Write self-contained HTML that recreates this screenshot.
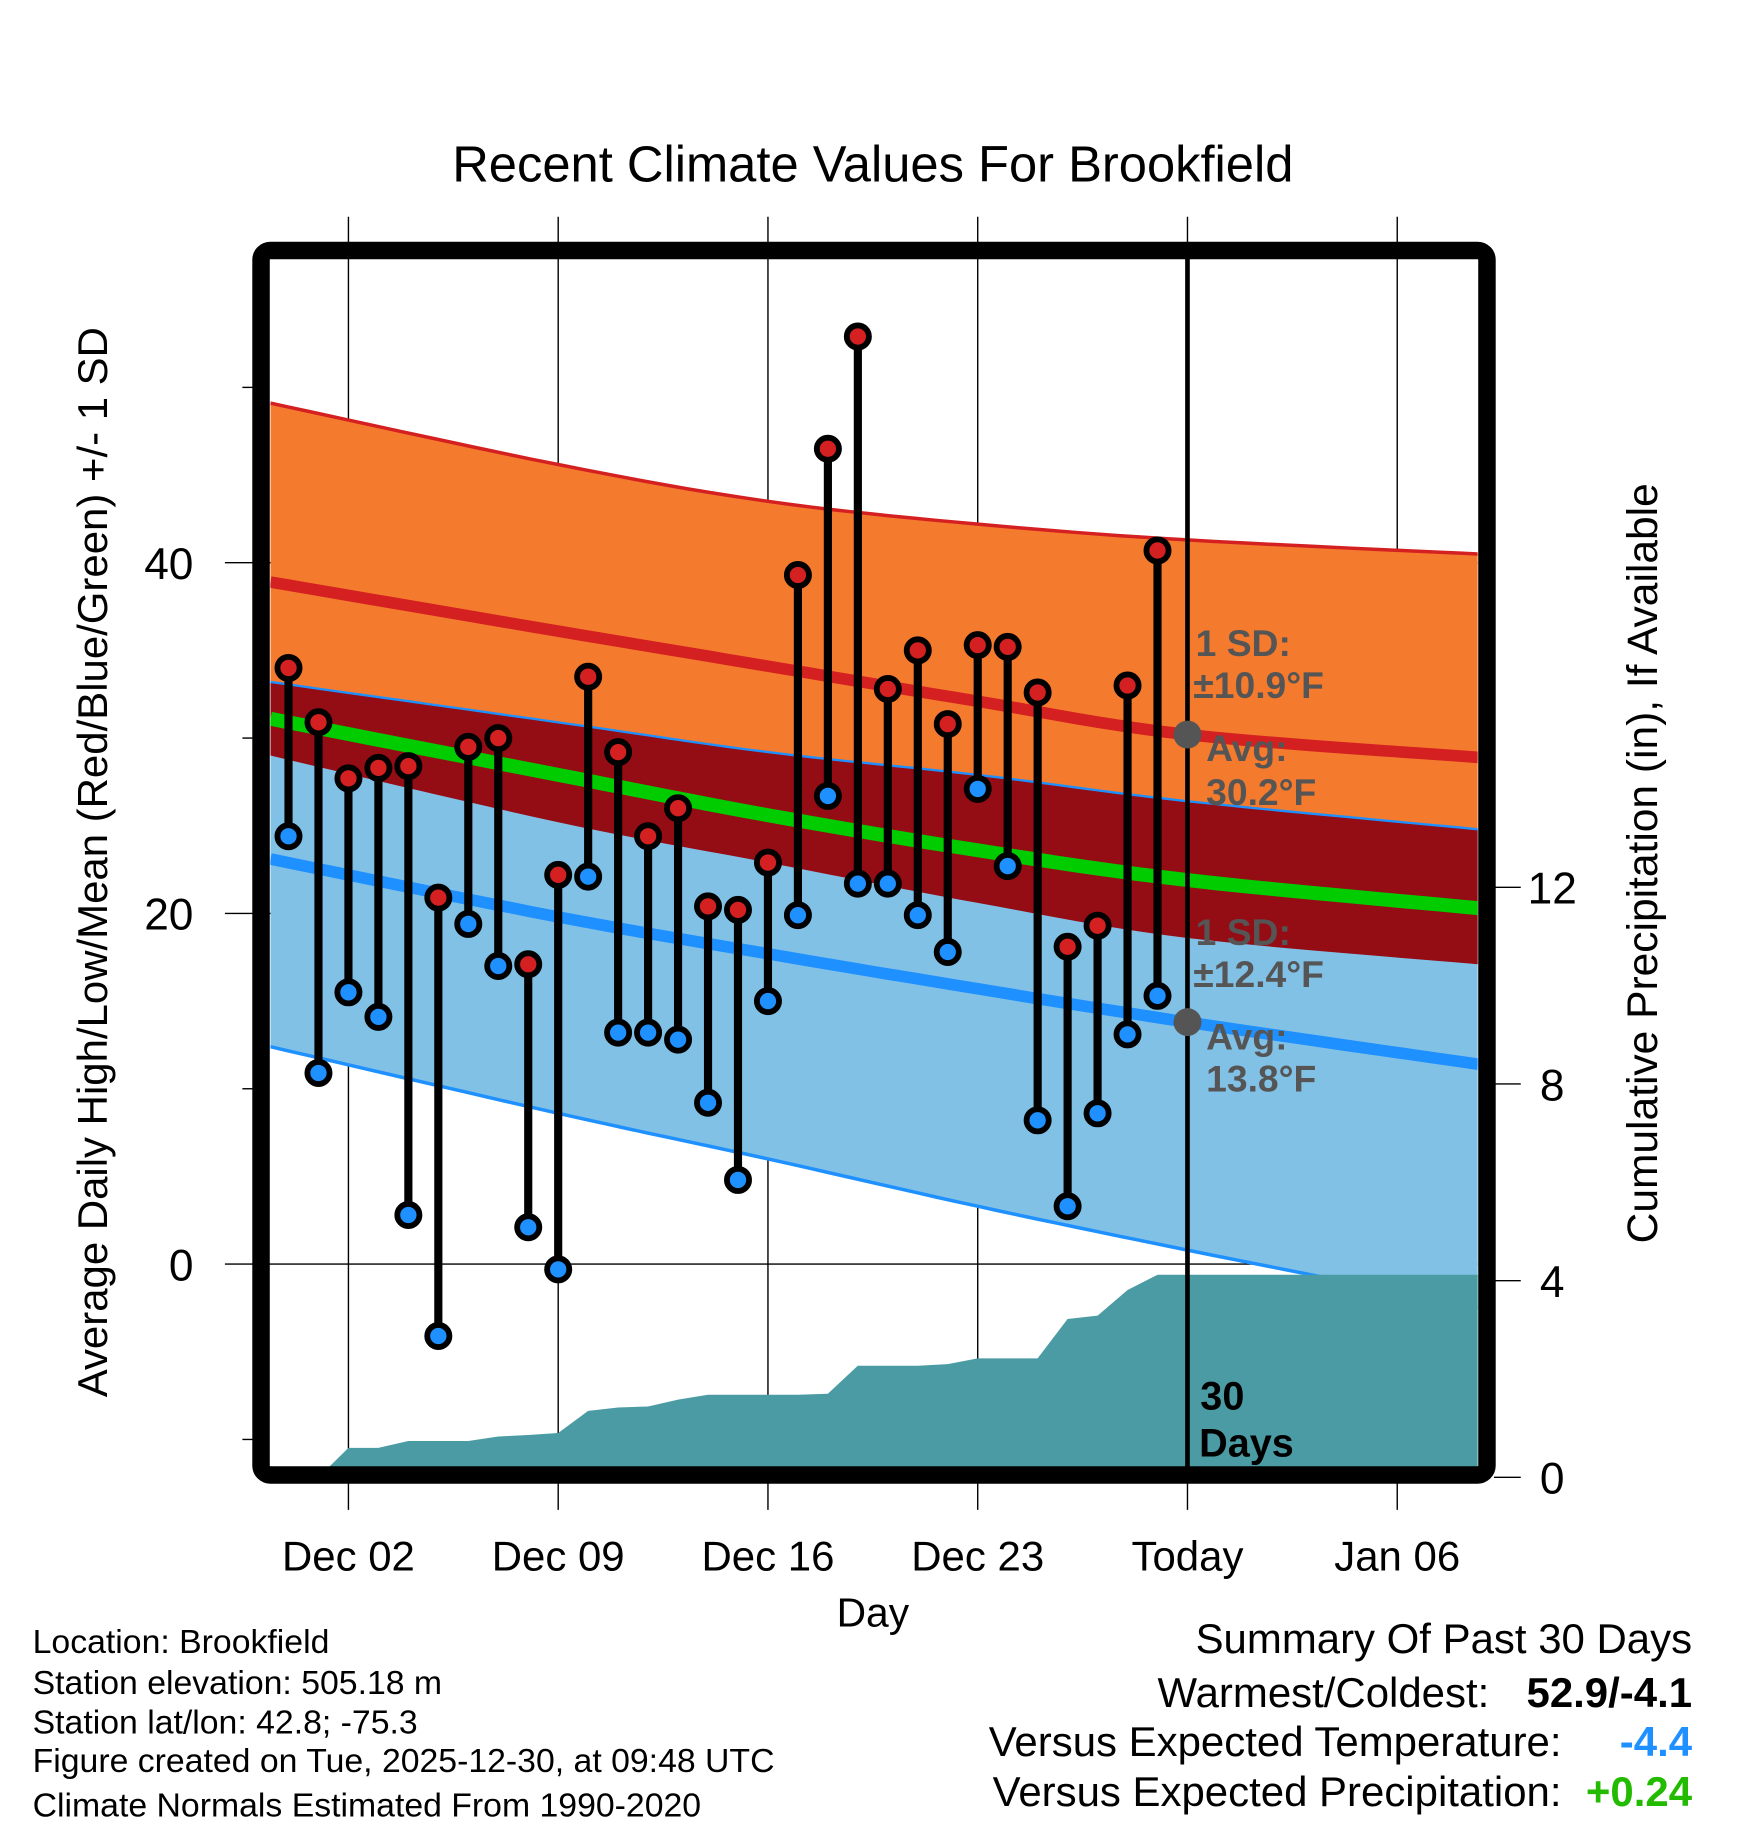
<!DOCTYPE html>
<html><head><meta charset="utf-8"><style>
html,body{margin:0;padding:0;background:#fff;}
svg{display:block;font-family:"Liberation Sans",Arial,sans-serif;}
</style></head><body>
<svg id="chart" xmlns="http://www.w3.org/2000/svg" width="1748" height="1828" viewBox="0 0 1500 1569" preserveAspectRatio="none">
<rect x="0" y="0" width="1500" height="1569" fill="#fff"/>
<defs><clipPath id="plotclip"><rect x="232" y="222" width="1036" height="1038"/></clipPath></defs>
<text x="749" y="156" font-size="43.5" text-anchor="middle">Recent Climate Values For Brookfield</text>
<g id="grid"></g>
<g id="bands" clip-path="url(#plotclip)"></g>
<g id="precip" clip-path="url(#plotclip)"></g>
<g id="marks"></g>
<g id="annot"></g>
<rect x="224" y="215" width="1052" height="1051" rx="8" fill="none" stroke="#000" stroke-width="15"/>
<g id="axes"></g>
<text transform="translate(92,740) rotate(-90)" font-size="36" text-anchor="middle">Average Daily High/Low/Mean (Red/Blue/Green) +/- 1 SD</text>
<text transform="translate(1422,741) rotate(-90)" font-size="36.5" text-anchor="middle">Cumulative Precipitation (in), If Available</text>
<text x="749" y="1396" font-size="35" text-anchor="middle">Day</text>
<g font-size="29">
<text x="28" y="1419">Location: Brookfield</text>
<text x="28" y="1454">Station elevation: 505.18 m</text>
<text x="28" y="1488">Station lat/lon: 42.8; -75.3</text>
<text x="28" y="1521">Figure created on Tue, 2025-12-30, at 09:48 UTC</text>
<text x="28" y="1559">Climate Normals Estimated From 1990-2020</text>
</g>
<g font-size="36">
<text x="1452" y="1419" text-anchor="end">Summary Of Past 30 Days</text>
<text x="1278" y="1465" text-anchor="end">Warmest/Coldest:</text>
<text x="1452" y="1465" text-anchor="end" font-weight="bold">52.9/-4.1</text>
<text x="1340" y="1507" text-anchor="end">Versus Expected Temperature:</text>
<text x="1452" y="1507" text-anchor="end" font-weight="bold" fill="#1e90ff">-4.4</text>
<text x="1340" y="1550" text-anchor="end">Versus Expected Precipitation:</text>
<text x="1452" y="1550" text-anchor="end" font-weight="bold" fill="#22bb00">+0.24</text>
</g>
</svg>
<script>
// ---- data ----
const obsDays = [-2,-1,0,1,2,3,4,5,6,7,8,9,10,11,12,13,14,15,16,17,18,19,20,21,22,23,24,25,26,27];
const highs = [34.0,30.9,27.7,28.3,28.4,20.9,29.5,30.0,17.1,22.2,33.5,29.2,24.4,26.0,20.4,20.2,22.9,39.3,46.5,52.9,32.8,35.0,30.8,35.3,35.2,32.6,18.1,19.3,33.0,40.7];
const lows = [24.4,10.9,15.5,14.1,2.8,-4.1,19.4,17.0,2.1,-0.3,22.1,13.2,13.2,12.8,9.2,4.8,15.0,19.9,26.7,21.7,21.7,19.9,17.8,27.1,22.7,8.2,3.3,8.6,13.1,15.3];
const normDays = [-2.6,7,14,21,28,37.7];
const highUpper = [49.1,45.6,43.5,42.2,41.3,40.5];
const highAvg = [38.9,36.1,34.1,32.1,30.2,28.9];
const highLower = [29.0,25.2,22.9,20.6,18.6,17.1];
const lowUpper = [33.2,30.9,29.2,27.9,26.4,24.8];
const meanLine = [31.1,27.9,25.6,23.6,21.9,20.3];
const lowAvg = [23.1,19.8,17.7,15.7,13.8,11.4];
const lowLower = [12.4,8.6,6.0,3.3,0.8,-2.5];
const precipDays = [-1,0,1,2,3,4,5,6,7,8,9,10,11,12,13,14,15,16,17,18,19,20,21,22,23,24,25,26,27,37.7];
const precipCum = [0,0.6,0.6,0.74,0.74,0.74,0.83,0.86,0.9,1.35,1.42,1.44,1.58,1.68,1.68,1.68,1.68,1.7,2.27,2.27,2.27,2.3,2.42,2.42,2.42,3.22,3.29,3.81,4.12,4.12];
const xTickDays = [0,7,14,21,28,35];
const xTickLabels = ["Dec 02","Dec 09","Dec 16","Dec 23","Today","Jan 06"];
const yTicks = [0,20,40];
const yMinor = [-10,10,30,50];
const y2Ticks = [0,4,8,12];

// ---- scales ----
const X = d => 299 + d*180/7;
const Y = v => 1085 - v*15.05;
const Y2 = p => 1268 - p*42.2;
const NS = "http://www.w3.org/2000/svg";
function mk(tag, parent, attrs){const e=document.createElementNS(NS,tag);for(const k in attrs)e.setAttribute(k,attrs[k]);parent.appendChild(e);return e;}
function smoothPts(days, vals){
  const pts=[];
  for(let i=0;i<days.length-1;i++){
    const p0=[X(days[Math.max(0,i-1)]),Y(vals[Math.max(0,i-1)])],p1=[X(days[i]),Y(vals[i])],p2=[X(days[i+1]),Y(vals[i+1])],p3=[X(days[Math.min(days.length-1,i+2)]),Y(vals[Math.min(days.length-1,i+2)])];
    for(let t=0;t<1;t+=0.1){
      const t2=t*t,t3=t2*t;
      pts.push([0,1].map(k=>0.5*((2*p1[k])+(-p0[k]+p2[k])*t+(2*p0[k]-5*p1[k]+4*p2[k]-p3[k])*t2+(-p0[k]+3*p1[k]-3*p2[k]+p3[k])*t3)));
    }
  }
  pts.push([X(days[days.length-1]),Y(vals[vals.length-1])]);
  return pts;
}
const ptsStr = p => p.map(q=>q[0].toFixed(1)+","+q[1].toFixed(1)).join(" ");
function band(a,b){const pa=smoothPts(normDays,a),pb=smoothPts(normDays,b).reverse();return ptsStr(pa.concat(pb));}

const grid=document.getElementById('grid'), bands=document.getElementById('bands'), precip=document.getElementById('precip'), marks=document.getElementById('marks'), annot=document.getElementById('annot'), axes=document.getElementById('axes');

let e;
e=mk('polygon',bands,{points:band(highUpper,highLower),fill:'#f47a2e'});


e=mk('polygon',bands,{points:band(lowUpper,lowLower),fill:'#82c1e6'});


e=mk('polygon',bands,{points:band(lowUpper,highLower),fill:'#940c14'});


const lines=[[highUpper,'#d42020',3,'high-upper-line'],[lowUpper,'#1e90ff',2,'low-upper-line'],[lowLower,'#1e90ff',3,'low-lower-line'],[meanLine,'#00cc00',12,'mean-line'],[highAvg,'#d42020',10,'high-avg-line'],[lowAvg,'#1e90ff',10,'low-avg-line']];
lines.forEach(l=>{
  e=mk('polyline',bands,{points:ptsStr(smoothPts(normDays,l[0])),fill:'none',stroke:l[1],'stroke-width':l[2]});
  
  
});

yTicks.forEach(v=>{
  e=mk('line',grid,{x1:193,x2:1268,y1:Y(v),y2:Y(v),stroke:'#000','stroke-width':1.2});
  
  
  e=mk('text',axes,{x:166,y:Y(v)+14,'font-size':38,'text-anchor':'end'});e.textContent=v;
  
  
});
yMinor.forEach(v=>{
  e=mk('line',axes,{x1:208,x2:218,y1:Y(v),y2:Y(v),stroke:'#000','stroke-width':1.2});
  
  
});
y2Ticks.forEach(p=>{
  e=mk('line',axes,{x1:1282,x2:1305,y1:Y2(p),y2:Y2(p),stroke:'#000','stroke-width':1.2});
  
  
  e=mk('text',axes,{x:1332,y:Y2(p)+14,'font-size':38,'text-anchor':'middle'});e.textContent=p;
  
  
});
xTickDays.forEach((d,i)=>{
  e=mk('line',grid,{x1:X(d),x2:X(d),y1:186,y2:1296,stroke:'#000','stroke-width':1.2});
  
  
  e=mk('text',axes,{x:X(d),y:1348,'font-size':36,'text-anchor':'middle'});e.textContent=xTickLabels[i];
  
  
});

{
  const pts=[[X(precipDays[0]),Y2(0)-8]];
  precipDays.forEach((d,i)=>pts.push([X(d),Y2(precipCum[i])]));
  pts.push([X(precipDays[precipDays.length-1]),1262]);
  e=mk('polygon',precip,{points:ptsStr(pts),fill:'#4a9ba3'});
  
  
}

e=mk('line',marks,{x1:X(28),x2:X(28),y1:222,y2:1260,stroke:'#000','stroke-width':4});



obsDays.forEach((d,i)=>{
  e=mk('line',marks,{x1:X(d),x2:X(d),y1:Y(highs[i]),y2:Y(lows[i]),stroke:'#000','stroke-width':7});
  
  
});
obsDays.forEach((d,i)=>{
  e=mk('circle',marks,{cx:X(d),cy:Y(highs[i]),r:9.5,fill:'#d42020',stroke:'#000','stroke-width':5});
  
  
  e=mk('circle',marks,{cx:X(d),cy:Y(lows[i]),r:9.5,fill:'#1e90ff',stroke:'#000','stroke-width':5});
  
  
});

const todayAvgHigh=30.2, todayAvgLow=13.8;
e=mk('circle',annot,{cx:X(28),cy:Y(todayAvgHigh),r:12,fill:'#555'});


e=mk('circle',annot,{cx:X(28),cy:Y(todayAvgLow),r:12,fill:'#555'});


const notes=[[1026,563,'1 SD:'],[1024,599,'±10.9°F'],[1035,653,'Avg:'],[1035,691,'30.2°F'],[1026,811,'1 SD:'],[1024,847,'±12.4°F'],[1035,901,'Avg:'],[1035,937,'13.8°F']];
notes.forEach(n=>{
  e=mk('text',annot,{x:n[0],y:n[1],'font-size':32,'font-weight':'bold',fill:'#555'});e.textContent=n[2];
  
  
});
e=mk('text',annot,{x:1030,y:1210,'font-size':34,'font-weight':'bold'});e.textContent='30';


e=mk('text',annot,{x:1029,y:1250,'font-size':34,'font-weight':'bold'});e.textContent='Days';


</script>
</body></html>
